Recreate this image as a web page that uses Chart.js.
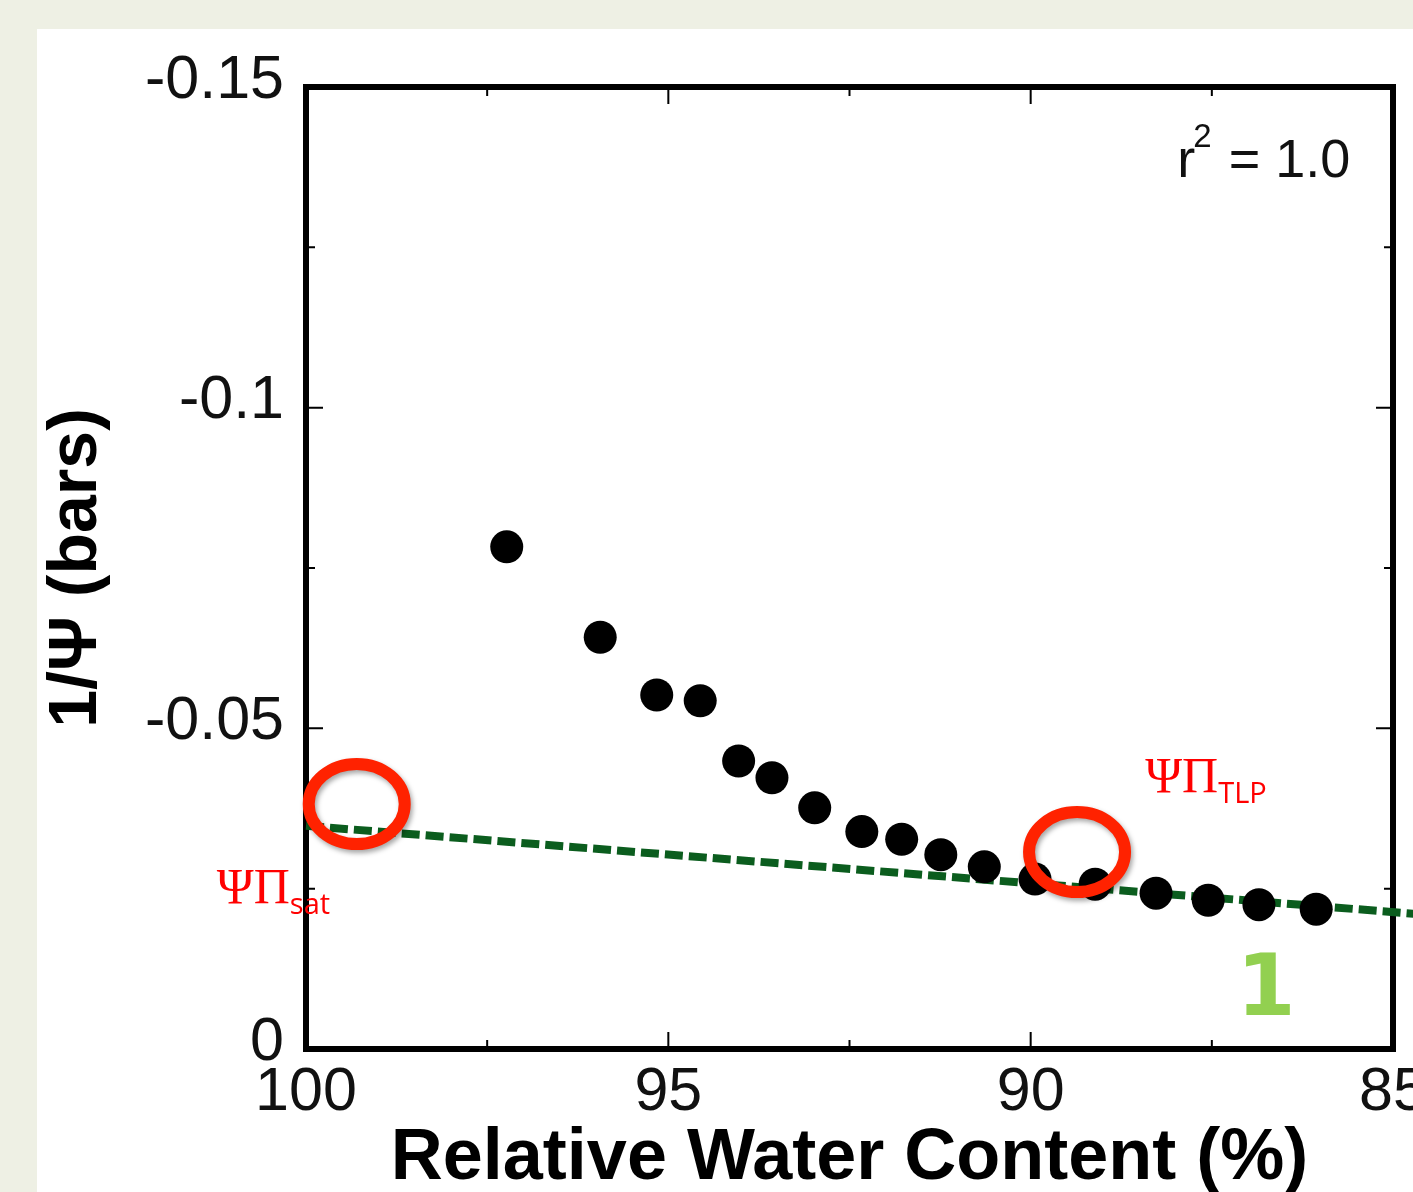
<!DOCTYPE html>
<html lang="en">

<head>
    <meta charset="UTF-8">
    <title>Relative Water Content</title>
    <script src="https://cdn.jsdelivr.net/npm/chart.js"></script>
    <style>
        body { margin: 0; background: #eef0e4; width: 1413px; height: 1192px; overflow: hidden; position: relative; }
        #panel { position: absolute; left: 37px; top: 29px; width: 1376px; height: 1163px; background: #fff; }
    </style>
</head>

<body>
    <div id="panel"><canvas id="pvChart" width="1376" height="1163"></canvas></div>

    <script>
        // measured points: relative water content (%) vs 1/psi (bars)
        const rwc = [97.23, 95.94, 95.16, 94.56, 94.03, 93.57, 92.98, 92.33, 91.78, 91.24, 90.64, 89.94, 89.11, 88.27, 87.55, 86.85, 86.06];
        const invPsi = [-0.0783, -0.0642, -0.0552, -0.0543, -0.0449, -0.0423, -0.0376, -0.0339, -0.0327, -0.0303, -0.0284, -0.0265, -0.0257, -0.0243, -0.0232, -0.0225, -0.0218];

        // linear fit (dashed), runs past the right edge of the frame
        const fitX = [100, 84.72];
        const fitY = [-0.0348, -0.0211];

        const xTickValues = [100, 95, 90, 85];
        const xTickLabels = ['100', '95', '90', '85'];
        const xMinorTicks = [97.5, 92.5, 87.5];
        const yTickValues = [-0.15, -0.1, -0.05, 0];
        const yTickLabels = ['-0.15', '-0.1', '-0.05', '0'];
        const yMinorTicks = [-0.125, -0.075, -0.025];

        // annotation anchors (data units)
        const circleX = [99.30, 89.36];
        const circleY = [-0.0382, -0.0307];

        const sans = 'Liberation Sans, Arial, sans-serif';

        const framePlugin = {
            id: 'frame',
            beforeDatasetsDraw(chart) {
                const { ctx, chartArea: a, scales: { x, y } } = chart;
                ctx.save();
                ctx.strokeStyle = '#000';
                ctx.lineWidth = 2;
                ctx.beginPath();
                const tick = (v, len, vertical) => {
                    if (vertical) {
                        const px = x.getPixelForValue(v);
                        ctx.moveTo(px, a.bottom); ctx.lineTo(px, a.bottom - len);
                        ctx.moveTo(px, a.top); ctx.lineTo(px, a.top + len);
                    } else {
                        const py = y.getPixelForValue(v);
                        ctx.moveTo(a.left, py); ctx.lineTo(a.left + len, py);
                        ctx.moveTo(a.right, py); ctx.lineTo(a.right - len, py);
                    }
                };
                xTickValues.slice(1, -1).forEach(v => tick(v, 17, true));
                xMinorTicks.forEach(v => tick(v, 9, true));
                yTickValues.slice(1, -1).forEach(v => tick(v, 17, false));
                yMinorTicks.forEach(v => tick(v, 9, false));
                ctx.stroke();
                ctx.lineWidth = 6;
                ctx.strokeRect(a.left, a.top, a.right - a.left, a.bottom - a.top);
                ctx.restore();
            }
        };

        const notesPlugin = {
            id: 'notes',
            afterDatasetsDraw(chart) {
                const { ctx, scales: { x, y } } = chart;
                ctx.save();
                // red circles
                ctx.strokeStyle = '#ff2200';
                ctx.lineWidth = 12;
                ctx.shadowColor = 'rgba(0,0,0,0.35)';
                ctx.shadowBlur = 5;
                ctx.shadowOffsetX = 2;
                ctx.shadowOffsetY = 3;
                circleX.forEach((cx, i) => {
                    ctx.beginPath();
                    ctx.ellipse(x.getPixelForValue(cx), y.getPixelForValue(circleY[i]), 48, 40, 0, 0, Math.PI * 2);
                    ctx.stroke();
                });
                ctx.shadowColor = 'transparent';

                ctx.textBaseline = 'alphabetic';
                ctx.textAlign = 'left';
                const label = (px, py, main, sub) => {
                    ctx.fillStyle = '#ff0000';
                    ctx.font = '50px "Liberation Serif", "Times New Roman", serif';
                    ctx.fillText(main, px, py);
                    const w = ctx.measureText(main).width;
                    ctx.font = '29px "Open Sans", sans-serif';
                    ctx.fillText(sub, px + w, py + 11);
                };
                label(x.getPixelForValue(101.23), y.getPixelForValue(-0.0228), 'ΨΠ', 'sat');
                label(x.getPixelForValue(88.42), y.getPixelForValue(-0.0401), 'ΨΠ', 'TLP');

                // panel number
                ctx.fillStyle = '#92d050';
                ctx.font = 'bold 85px "DejaVu Sans", sans-serif';
                ctx.textAlign = 'center';
                ctx.fillText('1', x.getPixelForValue(86.75), y.getPixelForValue(-0.0053));

                // r^2 note
                ctx.fillStyle = '#111';
                ctx.textAlign = 'left';
                let px = x.getPixelForValue(85.59);
                const py = y.getPixelForValue(-0.136);
                ctx.font = '54px ' + sans;
                const rest = ' = 1.0';
                const wRest = ctx.measureText(rest).width;
                const wR = ctx.measureText('r').width;
                ctx.font = '33px ' + sans;
                const w2 = ctx.measureText('2').width;
                px -= wRest + w2 + wR;
                ctx.font = '54px ' + sans;
                ctx.fillText('r', px, py);
                ctx.font = '33px ' + sans;
                ctx.fillText('2', px + wR - 2, py - 30);
                ctx.font = '54px ' + sans;
                ctx.fillText(rest, px + wR + w2, py);
                ctx.restore();
            }
        };

        const ctx = document.getElementById('pvChart').getContext('2d');
        const pvChart = new Chart(ctx, {
            type: 'scatter',
            data: {
                datasets: [{
                    label: 'RWC',
                    data: rwc.map((v, i) => ({ x: v, y: invPsi[i] })),
                    pointRadius: 16.5,
                    pointBackgroundColor: '#000',
                    pointBorderWidth: 0,
                    showLine: false
                }, {
                    label: 'fit',
                    data: fitX.map((v, i) => ({ x: v, y: fitY[i] })),
                    showLine: true,
                    borderColor: '#0b5d1e',
                    borderWidth: 8,
                    borderDash: [18, 6],
                    pointRadius: 0,
                    clip: false
                }]
            },
            options: {
                responsive: false,
                animation: false,
                layout: { padding: { top: 58, right: 20, bottom: 0, left: 0 } },
                plugins: { legend: { display: false }, tooltip: { enabled: false } },
                scales: {
                    x: {
                        type: 'linear',
                        min: 85,
                        max: 100,
                        reverse: true,
                        afterBuildTicks: s => { s.ticks = xTickValues.map(v => ({ value: v })); },
                        afterFit: s => { s.height = 143; s.paddingLeft = 0; s.paddingRight = 0; },
                        grid: { display: false, drawTicks: false },
                        border: { display: false },
                        ticks: {
                            padding: 14,
                            color: '#111',
                            maxRotation: 0,
                            autoSkip: false,
                            font: { family: sans, size: 61, lineHeight: 1 },
                            callback: (v, i) => xTickLabels[i]
                        },
                        title: {
                            display: true,
                            text: 'Relative Water Content (%)',
                            color: '#000',
                            font: { family: sans, size: 72, weight: 'bold', lineHeight: 0.9 },
                            padding: { top: 0, bottom: 0 }
                        }
                    },
                    y: {
                        min: -0.15,
                        max: 0,
                        reverse: true,
                        afterBuildTicks: s => { s.ticks = yTickValues.map(v => ({ value: v })); },
                        afterFit: s => { s.width = 269; s.paddingTop = 0; s.paddingBottom = 0; },
                        grid: { display: false, drawTicks: false },
                        border: { display: false },
                        ticks: {
                            padding: 22,
                            labelOffset: -6,
                            color: '#111',
                            autoSkip: false,
                            font: { family: sans, size: 61, lineHeight: 1 },
                            callback: (v, i) => yTickLabels[i]
                        },
                        title: {
                            display: true,
                            text: '1/Ψ (bars)',
                            color: '#000',
                            font: { family: sans, size: 68, weight: 'bold', lineHeight: 1 },
                            padding: { top: 6, bottom: 0 }
                        }
                    }
                }
            },
            plugins: [framePlugin, notesPlugin]
        });
    </script>
</body>

</html>
